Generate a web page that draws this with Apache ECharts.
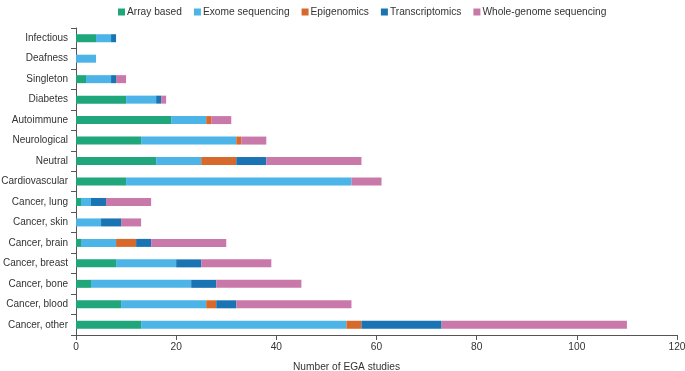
<!DOCTYPE html>
<html>
<head>
<meta charset="utf-8">
<script src="https://cdn.jsdelivr.net/npm/echarts@6/dist/echarts.min.js"></script>
<style>
  html, body { margin: 0; padding: 0; background: #fff; }
  #chart { width: 685px; height: 371px; }
</style>
</head>
<body>
<div id="chart"></div>
<script>
// categories from bottom to top
const categories = ['Cancer, other', 'Cancer, blood', 'Cancer, bone', 'Cancer, breast', 'Cancer, brain',
  'Cancer, skin', 'Cancer, lung', 'Cardiovascular', 'Neutral', 'Neurological', 'Autoimmune',
  'Diabetes', 'Singleton', 'Deafness', 'Infectious']

const arrayBased      = [13, 9, 3, 8, 1, 0, 1, 10, 16, 13, 19, 10, 2, 0, 4]
const exomeSeq        = [41, 17, 20, 12, 7, 5, 2, 45, 9, 19, 7, 6, 5, 4, 3]
const epigenomics     = [3, 2, 0, 0, 4, 0, 0, 0, 7, 1, 1, 0, 0, 0, 0]
const transcriptomics = [16, 4, 5, 5, 3, 4, 3, 0, 6, 0, 0, 1, 1, 0, 1]
const wholeGenome     = [37, 23, 17, 14, 15, 4, 9, 6, 19, 5, 4, 1, 2, 0, 0]

const xTicks = [0, 20, 40, 60, 80, 100, 120]

const font = 'Arial, "Liberation Sans", sans-serif'

let chart = echarts.init(document.getElementById('chart'))

function bar(name, data, color) {
  return {
    name: name,
    type: 'bar',
    stack: 'total',
    barWidth: 8,
    itemStyle: { color: color },
    data: data
  }
}

let option = {
  animation: false,
  textStyle: { fontFamily: font },
  legend: {
    left: 113,
    top: 2,
    itemWidth: 7,
    itemHeight: 7,
    itemGap: 12,
    icon: 'rect',
    textStyle: { fontSize: 10.2, color: '#333', fontFamily: font, padding: [0, 0, 0, -3] },
    data: ['Array based', 'Exome sequencing', 'Epigenomics', 'Transcriptomics', 'Whole-genome sequencing']
  },
  title: {
    text: 'Number of EGA studies',
    left: 288,
    top: 357,
    textStyle: { fontSize: 10.2, fontWeight: 'normal', color: '#333', fontFamily: font }
  },
  grid: { left: 76, right: 8, top: 28, bottom: 36, outerBoundsMode: 'none' },
  xAxis: {
    type: 'value',
    min: 0,
    max: 120,
    interval: 20,
    splitLine: { show: false },
    axisLine: { show: true, lineStyle: { color: '#555', width: 1 } },
    axisTick: { show: true, length: 5, lineStyle: { color: '#555' } },
    axisLabel: {
      color: '#333', fontSize: 10.2, margin: 7, fontFamily: font,
      formatter: v => xTicks.includes(v) ? String(v) : ''
    }
  },
  yAxis: {
    type: 'category',
    data: categories,
    axisLine: { show: true, lineStyle: { color: '#555', width: 1 } },
    axisTick: { show: true, length: 5, alignWithLabel: false, lineStyle: { color: '#555' } },
    axisLabel: { color: '#333', fontSize: 10, margin: 8, fontFamily: font }
  },
  series: [
    bar('Array based', arrayBased, '#1fa67b'),
    bar('Exome sequencing', exomeSeq, '#4cb4e7'),
    bar('Epigenomics', epigenomics, '#d8692c'),
    bar('Transcriptomics', transcriptomics, '#1a74b4'),
    bar('Whole-genome sequencing', wholeGenome, '#c878a9')
  ]
}

chart.setOption(option)
</script>
</body>
</html>
